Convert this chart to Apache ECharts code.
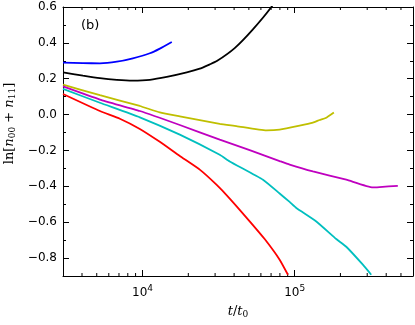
<!DOCTYPE html>
<html>
<head>
<meta charset="utf-8">
<script src="https://cdn.jsdelivr.net/npm/echarts@6/dist/echarts.min.js"></script>
<style>
html,body{margin:0;padding:0;background:#fff;}
#chart{width:415px;height:325px;}
</style>
</head>
<body>
<div id="chart"></div>
<script>
// t/t0 , ln[n00+n11]
const blueData = [[3000,0.29],[4055,0.287],[5244,0.286],[6780,0.295],[8636,0.314],[11170,0.342],[13000,0.368],[15570,0.405]];
const blackData = [[3000,0.235],[4055,0.217],[5244,0.203],[6780,0.194],[8636,0.19],[11170,0.194],[14440,0.21],[19540,0.235],[23780,0.256],[27660,0.28],[30620,0.297],[40360,0.371],[52990,0.474],[70310,0.6],[80000,0.68]];
const yellowData = [[3000,0.167],[5244,0.108],[9600,0.048],[12990,0.012],[17580,-0.01],[32180,-0.052],[41420,-0.064],[65200,-0.088],[79690,-0.084],[107800,-0.062],[131900,-0.045],[146000,-0.03],[160000,-0.019],[181100,0.012]];
const magentaData = [[3000,0.157],[5244,0.084],[9600,0.02],[17580,-0.058],[32180,-0.14],[50640,-0.198],[79690,-0.259],[92720,-0.279],[131900,-0.317],[218500,-0.363],[326700,-0.406],[361500,-0.404],[476800,-0.397]];
const cyanData = [[3000,0.143],[5244,0.066],[9600,-0.015],[17580,-0.112],[32180,-0.224],[37430,-0.261],[61930,-0.363],[79690,-0.44],[92720,-0.487],[102600,-0.521],[138800,-0.596],[187800,-0.694],[218500,-0.737],[280900,-0.837],[318900,-0.893]];
const redData = [[3000,0.115],[5244,0.02],[7096,-0.023],[9600,-0.08],[12990,-0.152],[17580,-0.231],[23780,-0.307],[30620,-0.391],[37430,-0.468],[50640,-0.595],[63530,-0.694],[79690,-0.809],[90370,-0.893]];

const minorX = [4000,5000,6000,7000,8000,9000,20000,30000,40000,50000,60000,70000,80000,90000,200000,300000,400000,500000];

const X_MIN = 3000, X_MAX = 600000;
const Y_MIN = -0.9, Y_MAX = 0.6;

const FONT = 'DejaVu Sans';
const SERIF = 'DejaVu Serif';

let myChart = echarts.init(document.getElementById('chart'));

function isPow10(v){
	let l = Math.log10(v);
	return Math.abs(l - Math.round(l)) < 1e-6;
}

function lineSeries(data, color){
	return {
		type: 'line',
		data: data,
		xAxisIndex: 0,
		yAxisIndex: 0,
		showSymbol: false,
		symbol: 'none',
		smooth: 0.15,
		lineStyle: {color: color, width: 1.8},
		clip: true,
		z: 3
	};
}

// 主刻度轴 (左/右)
function majorY(pos, showLabel){
	return {
		type: 'value',
		position: pos,
		min: Y_MIN,
		max: Y_MAX,
		splitNumber: 7,
		axisLine: {show: true, onZero: false, lineStyle: {color: '#000', width: 1}},
		axisTick: {show: true, inside: true, length: 6, lineStyle: {color: '#000'}},
		splitLine: {show: false},
		axisLabel: {
			show: showLabel,
			showMinLabel: false,
			margin: 6,
			color: '#000',
			fontFamily: FONT,
			fontSize: 12,
			formatter: function(v){ return v.toFixed(1).replace('-', '\u2212'); }
		}
	};
}
// 次刻度轴
function minorY(pos){
	return {
		type: 'value',
		position: pos,
		min: Y_MIN,
		max: Y_MAX,
		interval: 0.1,
		axisLine: {show: false},
		axisTick: {show: true, inside: true, length: 3, lineStyle: {color: '#000'}},
		splitLine: {show: false},
		axisLabel: {show: false}
	};
}

let yLeft = majorY('left', true);
yLeft.name = '{r|ln[}{i|n}{s|00}{r| + }{i|n}{s|11}{r|]}';
yLeft.nameLocation = 'middle';
yLeft.nameGap = 46;
yLeft.nameTextStyle = {
	padding: [0, 0, 0, 36],
	rich: {
		r: {fontFamily: SERIF, fontSize: 13, color: '#000'},
		i: {fontFamily: SERIF, fontStyle: 'italic', fontSize: 13, color: '#000'},
		s: {fontFamily: SERIF, fontSize: 9, color: '#000', padding: [6, 0, 0, 0]}
	}
};

let option = {
	animation: false,
	backgroundColor: '#fff',
	title: {
		text: '(b)',
		left: 81,
		top: 19,
		padding: 0,
		textStyle: {fontFamily: FONT, fontSize: 13, fontWeight: 'normal', color: '#000'}
	},
	grid: {left: 63, right: 2, top: 7, bottom: 49, containLabel: false, outerBoundsMode: 'none'},
	xAxis: [
		{
			type: 'log',
			logBase: 10,
			min: X_MIN,
			max: X_MAX,
			position: 'bottom',
			axisLine: {show: true, onZero: false, lineStyle: {color: '#000', width: 1}},
			axisTick: {show: true, inside: true, length: 6, lineStyle: {color: '#000'}},
			splitLine: {show: false},
			axisLabel: {
				margin: 8,
				showMinLabel: false,
				showMaxLabel: false,
				formatter: function(v){
					if(!isPow10(v)) return '';
					return '{b|10}{e|' + Math.round(Math.log10(v)) + '}';
				},
				rich: {
					b: {fontFamily: FONT, fontSize: 12, color: '#000'},
					e: {fontFamily: FONT, fontSize: 9, color: '#000', padding: [0, 0, 8, 0]}
				}
			},
			name: '{i|t}{r|/}{i|t}{s|0}',
			nameLocation: 'middle',
			nameGap: 28,
			nameTextStyle: {
				rich: {
					r: {fontFamily: SERIF, fontSize: 13, color: '#000'},
					i: {fontFamily: SERIF, fontStyle: 'italic', fontSize: 13, color: '#000'},
					s: {fontFamily: SERIF, fontSize: 9, color: '#000', padding: [6, 0, 0, 0]}
				}
			}
		},
		{
			type: 'log',
			logBase: 10,
			min: X_MIN,
			max: X_MAX,
			position: 'top',
			axisLine: {show: true, onZero: false, lineStyle: {color: '#000', width: 1}},
			axisTick: {show: true, inside: true, length: 6, lineStyle: {color: '#000'}},
			splitLine: {show: false},
			axisLabel: {show: false}
		}
	],
	yAxis: [yLeft, majorY('right', false), minorY('left'), minorY('right')],
	series: [
		lineSeries(blueData, '#0000ff'),
		lineSeries(blackData, '#000000'),
		lineSeries(yellowData, '#bfbf00'),
		lineSeries(magentaData, '#bf00bf'),
		lineSeries(cyanData, '#00bfbf'),
		lineSeries(redData, '#ff0000'),
		{
			// x轴次刻度 (上下)
			type: 'custom',
			xAxisIndex: 0,
			yAxisIndex: 0,
			data: minorX.map(function(v){ return [v, 0]; }),
			encode: {x: 0, y: 1},
			silent: true,
			renderItem: function(params, api){
				let v = api.value(0);
				let b = api.coord([v, Y_MIN]);
				let t = api.coord([v, Y_MAX]);
				return {
					type: 'group',
					children: [
						{type: 'line', shape: {x1: b[0], y1: b[1], x2: b[0], y2: b[1] - 3}, style: {stroke: '#000', lineWidth: 1}},
						{type: 'line', shape: {x1: t[0], y1: t[1], x2: t[0], y2: t[1] + 3}, style: {stroke: '#000', lineWidth: 1}}
					]
				};
			}
		}
	]
};

myChart.setOption(option);
window.addEventListener("resize",function(){
	myChart.resize();
});
</script>
</body>
</html>
